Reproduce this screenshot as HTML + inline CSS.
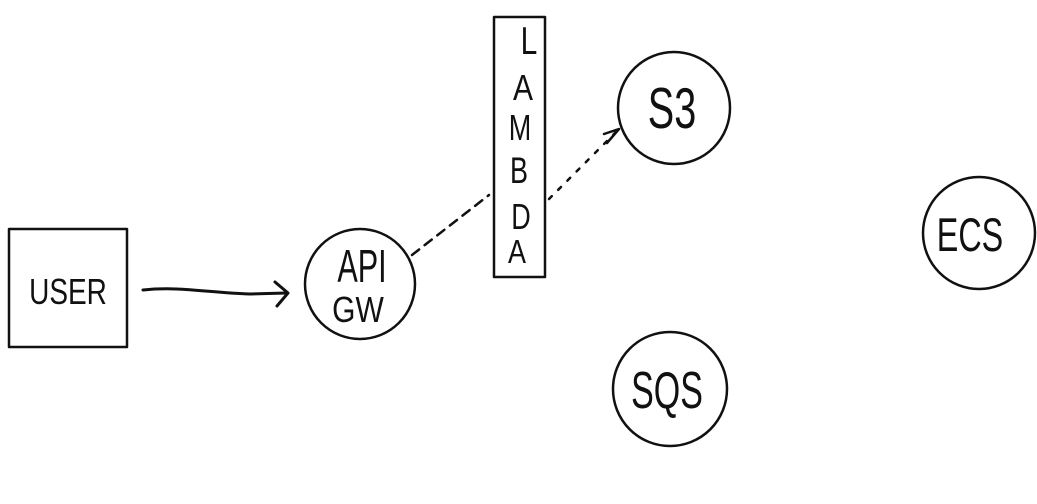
<!DOCTYPE html>
<html><head><meta charset="utf-8"><style>
html,body{margin:0;padding:0;background:#fff;}
svg{display:block}
text{font-family:"Liberation Sans",sans-serif;fill:#111;font-weight:normal}
</style></head><body>
<svg width="1037" height="504" viewBox="0 0 1037 504" xmlns="http://www.w3.org/2000/svg">
<g fill="none" stroke="#111" stroke-width="2.5" stroke-linecap="round" stroke-linejoin="round">
<rect x="9" y="229" width="118" height="118"/>
<circle cx="360" cy="284" r="55"/>
<rect x="494" y="17" width="51" height="260"/>
<circle cx="674" cy="108" r="56"/>
<circle cx="979" cy="233" r="56"/>
<circle cx="670" cy="389" r="57"/>
<path d="M143 290 C180 286 210 293 250 294 L287 293" stroke-width="3"/>
<path d="M275 282 L288 293 L277 306" stroke-width="3"/>
<path d="M412 255 L489 195" stroke-dasharray="9 7"/>
<path d="M549 199 L618 130" stroke-dasharray="4 9"/>
<path d="M604 134 L619 129 L607 143"/>
</g>
<text transform="translate(68,304) scale(1,1.3)" font-size="28" text-anchor="middle">USER</text>
<text transform="translate(362,282) scale(0.9,1.35)" font-size="34" text-anchor="middle">API</text>
<text transform="translate(358,322) scale(1,1.2)" font-size="30" text-anchor="middle">GW</text>
<g font-size="30" text-anchor="middle">
<text transform="translate(529,54) scale(1,1.3)">L</text>
<text transform="translate(523,100) scale(1,1.2)">A</text>
<text transform="translate(520,140) scale(0.9,1.2)">M</text>
<text transform="translate(519,183) scale(0.9,1.25)">B</text>
<text transform="translate(521,229) scale(0.9,1.2)">D</text>
<text transform="translate(517,263) scale(0.9,1.1)">A</text>
</g>
<text transform="translate(672,128) scale(0.9,1.3)" font-size="44" text-anchor="middle">S3</text>
<text transform="translate(970,251) scale(0.85,1.25)" font-size="38" text-anchor="middle">ECS</text>
<text transform="translate(667,408) scale(0.85,1.3)" font-size="40" text-anchor="middle">SQS</text>
</svg>
</body></html>
